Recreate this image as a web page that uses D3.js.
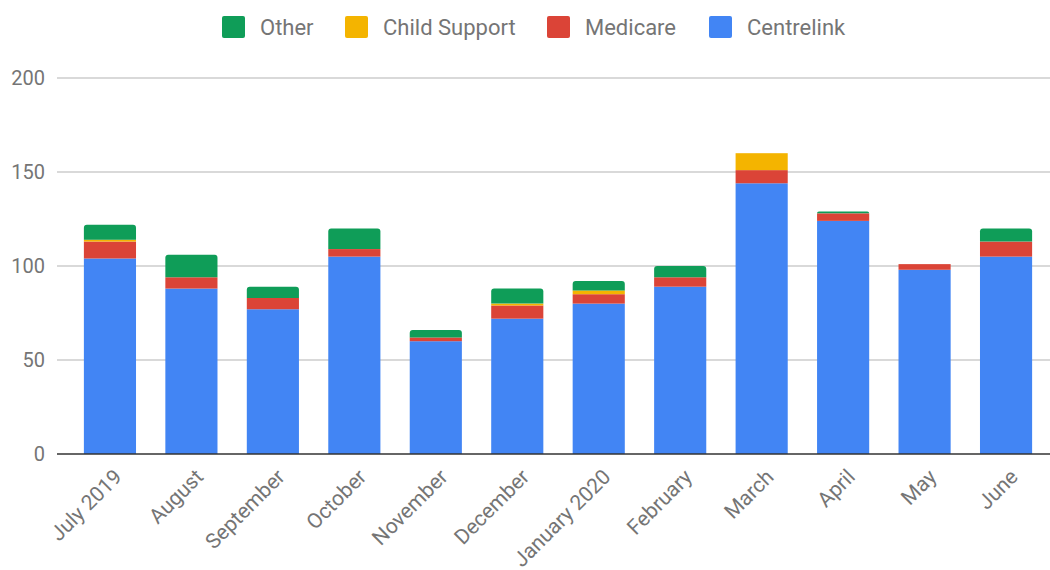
<!DOCTYPE html>
<html><head><meta charset="utf-8">
<script src="https://cdn.jsdelivr.net/npm/d3@7"></script>
<style>body{margin:0;background:#fff;font-family:Roboto,"Noto Sans",sans-serif}</style>
</head><body><svg id="c" width="1050" height="570"></svg>
<script>
const months = ["July 2019","August","September","October","November","December","January 2020","February","March","April","May","June"];
const seriesNames = ["Centrelink","Medicare","Child Support","Other"];
const centrelink = [104,88,77,105,60,72,80,89,144,124,98,105];
const medicare   = [9,6,6,4,2,7,5,5,7,4,3,8];
const childSupport = [1,0,0,0,0,1,2,0,9,0,0,0];
const other      = [8,12,6,11,4,8,5,6,0,1,0,7];
const yTicks = [0,50,100,150,200];
const colors = {"Centrelink":"#4285F4","Medicare":"#DB4437","Child Support":"#F4B400","Other":"#0F9D58"};
const legendOrder = ["Other","Child Support","Medicare","Centrelink"];

const svg = d3.select("#c");
const rows = months.map((m,i)=>({month:m,"Centrelink":centrelink[i],"Medicare":medicare[i],"Child Support":childSupport[i],"Other":other[i]}));
const stacked = d3.stack().keys(seriesNames)(rows);

const x = d3.scaleBand().domain(months).range([57,1059]).paddingInner(0.36).paddingOuter(0.33);
const y = d3.scaleLinear().domain([0,200]).range([454,78]);

// gridlines
svg.append("g").selectAll("line").data(yTicks.filter(t=>t>0)).join("line")
  .attr("x1",57).attr("x2",1050).attr("y1",d=>y(d)).attr("y2",d=>y(d))
  .attr("stroke","#cccccc").attr("stroke-width",1.5);
// y labels
svg.append("g").selectAll("text").data(yTicks).join("text")
  .attr("x",45).attr("y",d=>y(d)).attr("dy","0.36em").attr("text-anchor","end")
  .attr("font-size",20).attr("fill","#757575").text(d=>d);

// bars
function roundTop(x0,y0,w,h,r){
  r=Math.min(r,h,w/2);
  return `M${x0},${y0+h}V${y0+r}Q${x0},${y0} ${x0+r},${y0}H${x0+w-r}Q${x0+w},${y0} ${x0+w},${y0+r}V${y0+h}Z`;
}
stacked.forEach(layer=>{
  const g = svg.append("g").attr("fill",colors[layer.key]);
  layer.forEach((d,i)=>{
    if(d[1]-d[0]<=0) return;
    const bx = x(months[i]), bw = x.bandwidth();
    const top = y(d[1]), h = y(d[0])-y(d[1]);
    if(layer.key==="Other"){
      g.append("path").attr("d",roundTop(bx,top,bw,h,3));
    } else {
      g.append("rect").attr("x",bx).attr("y",top).attr("width",bw).attr("height",h);
    }
  });
});

// baseline
svg.append("line").attr("x1",57).attr("x2",1050).attr("y1",y(0)).attr("y2",y(0))
  .attr("stroke","#333333").attr("stroke-width",1.5);

// x labels
svg.append("g").selectAll("text").data(months).join("text")
  .attr("transform",d=>`translate(${x(d)+x.bandwidth()/2+8},${473}) rotate(-45)`)
  .attr("text-anchor","end").attr("dy","0.35em")
  .attr("font-size",21).attr("fill","#757575").text(d=>d);

// legend
const legX = {"Other":222,"Child Support":345,"Medicare":547,"Centrelink":709};
const lg = svg.append("g");
legendOrder.forEach(k=>{
  lg.append("rect").attr("x",legX[k]).attr("y",16).attr("width",23).attr("height",22).attr("rx",2).attr("fill",colors[k]);
  lg.append("text").attr("x",legX[k]+38).attr("y",27).attr("dy","0.36em")
    .attr("font-size",22).attr("fill","#757575").text(k);
});
</script></body></html>
